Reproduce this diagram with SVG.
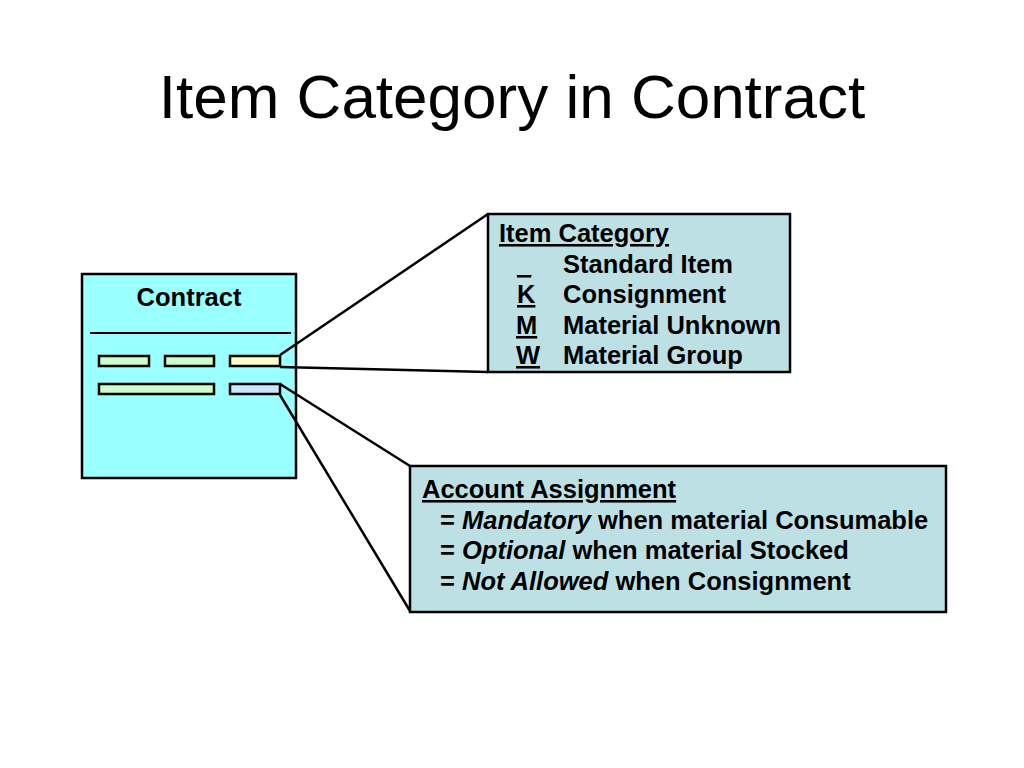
<svg xmlns="http://www.w3.org/2000/svg" width="1024" height="768" viewBox="0 0 1024 768">
<style>
text{font-family:"Liberation Sans",Arial,sans-serif;fill:#000}
.b{font-weight:bold;font-size:25.5px}
.box{stroke:#000;stroke-width:2.5}
.bar{stroke:#000;stroke-width:2.5}
.conn line{stroke:#000;stroke-width:2.5}
.u{text-decoration:underline}
</style>
<rect width="1024" height="768" fill="#fff"/>
<text x="512" y="118" font-size="62" text-anchor="middle">Item Category in Contract</text>
<g id="contract">
<rect class="box" x="82" y="274" width="214" height="204" fill="#99FFFF"/>
<text class="b" x="189" y="306" text-anchor="middle">Contract</text>
<line x1="90" y1="333" x2="291" y2="333" stroke="#000" stroke-width="2"/>
<rect class="bar" x="99" y="356" width="50" height="10" fill="#CCFFCC"/>
<rect class="bar" x="165" y="356" width="49" height="10" fill="#CCFFCC"/>
<rect class="bar" x="230" y="356" width="50" height="10" fill="#FFFFCC"/>
<rect class="bar" x="99" y="384" width="115" height="10" fill="#CCFFCC"/>
<rect class="bar" x="230" y="384" width="50" height="10" fill="#CCE6FF"/>
</g>
<g id="connectors" class="conn">
<line x1="280" y1="355" x2="488" y2="214"/>
<line x1="280" y1="367" x2="488" y2="372"/>
<line x1="280" y1="384" x2="410" y2="466"/>
<line x1="280" y1="395" x2="410" y2="611"/>
</g>
<g id="item-category">
<rect class="box" x="488" y="214" width="302" height="158" fill="#BDE0E4"/>
<text class="b u" x="499" y="242">Item Category</text>
<text class="b u" x="517" y="273">_</text>
<text class="b" x="563" y="273">Standard Item</text>
<text class="b u" x="517" y="303">K</text>
<text class="b" x="563" y="303">Consignment</text>
<text class="b u" x="516" y="334">M</text>
<text class="b" x="563" y="334">Material Unknown</text>
<text class="b u" x="516" y="364">W</text>
<text class="b" x="563" y="364">Material Group</text>
</g>
<g id="account-assignment">
<rect class="box" x="410" y="466" width="536" height="146" fill="#BDE0E4"/>
<text class="b u" x="422" y="498">Account Assignment</text>
<text class="b" x="440" y="529">= <tspan font-style="italic">Mandatory</tspan> when material Consumable</text>
<text class="b" x="440" y="559">= <tspan font-style="italic">Optional</tspan> when material Stocked</text>
<text class="b" x="440" y="590">= <tspan font-style="italic">Not Allowed</tspan> when Consignment</text>
</g>
</svg>
